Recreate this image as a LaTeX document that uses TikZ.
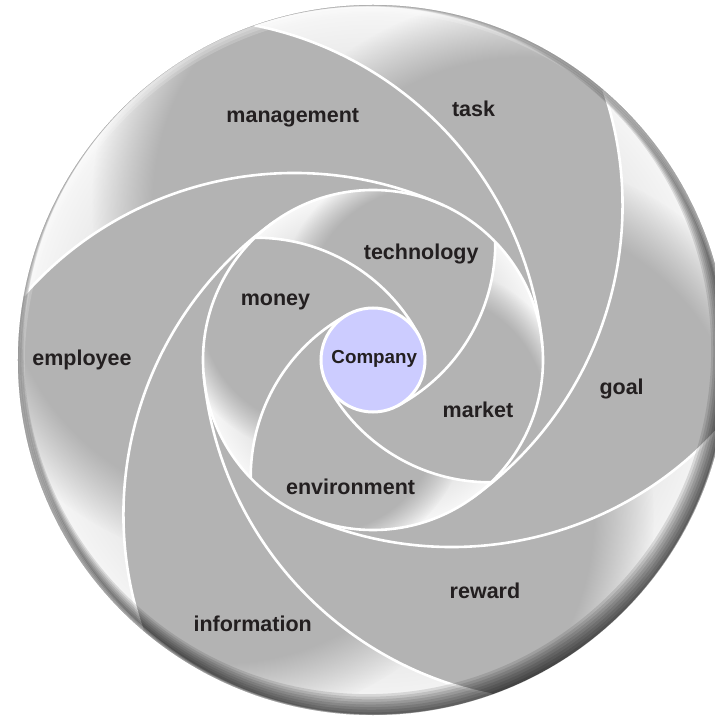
\documentclass[tikz,border=0pt]{standalone}
\usepackage{fontspec}
\setmainfont{Liberation Sans}
\usetikzlibrary{fadings}

\definecolor{petal}{HTML}{B3B3B3}
\definecolor{txt}{HTML}{231F20}
\definecolor{core}{HTML}{CCCCFF}
\definecolor{ltA}{HTML}{CDCDCD}
\definecolor{ltB}{HTML}{E3E3E3}
\definecolor{ltC}{HTML}{F7F7F7}

% shading/fading radius of the path = 25bp
\pgfdeclareradialshading{outerbase}{\pgfpointorigin}{color(0bp)=(petal); color(12bp)=(ltA); color(19bp)=(ltB); color(25bp)=(ltC); color(50bp)=(ltC)}
\pgfdeclareradialshading{innerbase}{\pgfpointorigin}{color(0bp)=(petal); color(7.5bp)=(ltA); color(20bp)=(ltB); color(25bp)=(ltC); color(50bp)=(ltC)}

\pgfdeclareradialshading{softS}{\pgfpointorigin}{color(0bp)=(pgftransparent!0); color(20bp)=(pgftransparent!0); color(22.5bp)=(pgftransparent!50); color(25bp)=(pgftransparent!100); color(50bp)=(pgftransparent!100)}
\pgfdeclarefading{soft}{\pgfuseshading{softS}}

\begin{document}
\begin{tikzpicture}[x=1pt,y=1pt,
  wline/.style={draw=white, line width=2.6pt},
  lbl/.style={font=\fontsize{21.5}{25}\selectfont\bfseries, text=txt, inner sep=0pt},
  corelbl/.style={font=\fontsize{18.8}{22}\selectfont\bfseries, text=txt, inner sep=0pt}]
\useasboundingbox (-373,-362) rectangle (341,360);

% disc base
\fill[petal] (0,0) circle[radius=355];

% outer blades
\foreach \k in {0,...,5}{
  \pgfmathsetmacro\sa{109.5-60*\k}
  \pgfmathsetmacro\sb{\sa-60}
  \pgfmathsetmacro\ta{\sa-104}
  \pgfmathsetmacro\tb{\sb-104}
  \pgfmathsetmacro\pa{\ta+73.2}
  \pgfmathsetmacro\pb{\tb+73.2}
  \pgfmathsetmacro\ph{\sa-90}
  \begin{scope}
    \clip (\sa:355) arc[start angle=\sa, end angle=\sb, radius=355]
      arc[start angle=\pb, end angle=\tb, radius=359.8]
      arc[start angle=\tb, end angle=\ta, radius=170]
      arc[start angle=\ta, end angle=\pa, radius=359.8] -- cycle;
    \shade[shading=outerbase] (0,0) circle[radius=355];
    \fill[petal, path fading=soft] (\ph:160) circle[radius=310];
  \end{scope}
}

% inner blades
\foreach \k in {0,...,3}{
  \pgfmathsetmacro\sa{134-90*\k}
  \pgfmathsetmacro\sb{\sa-90}
  \pgfmathsetmacro\ta{\sa-106}
  \pgfmathsetmacro\tb{\sb-106}
  \pgfmathsetmacro\pa{\ta+62.35}
  \pgfmathsetmacro\pb{\tb+62.35}
  \pgfmathsetmacro\ph{\sa-90}
  \begin{scope}
    \clip (\sa:170) arc[start angle=\sa, end angle=\sb, radius=170]
      arc[start angle=\pb, end angle=\tb, radius=184.5]
      arc[start angle=\tb, end angle=\ta, radius=52]
      arc[start angle=\ta, end angle=\pa, radius=184.5] -- cycle;
    \shade[shading=innerbase] (0,0) circle[radius=170];
    \fill[petal, path fading=soft] (\ph:75) circle[radius=150];
  \end{scope}
}

% white separating lines
\foreach \k in {0,...,5}{
  \pgfmathsetmacro\sa{109.5-60*\k}
  \pgfmathsetmacro\ta{\sa-104}
  \pgfmathsetmacro\pa{\ta+73.2}
  \draw[wline] (\sa:355) arc[start angle=\pa, end angle=\ta, radius=359.8];
}
\foreach \k in {0,...,3}{
  \pgfmathsetmacro\sa{134-90*\k}
  \pgfmathsetmacro\ta{\sa-106}
  \pgfmathsetmacro\pa{\ta+62.35}
  \draw[wline] (\sa:170) arc[start angle=\pa, end angle=\ta, radius=184.5];
}
\draw[wline] (0,0) circle[radius=170];

% rim shadow (bottom right) and soft highlight (top left)
\foreach \i in {1,...,8}{
  \fill[black, opacity=0.11, even odd rule] (0,0) circle[radius=355]
    (120:{1.4*\i}) circle[radius={355-1.4*\i}];
}
\foreach \i in {1,...,3}{
  \fill[white, opacity=0.18, even odd rule] (0,0) circle[radius=355.5]
    (-60:{1.5*\i}) circle[radius={355-1.5*\i}];
}

% centre
\node[circle, fill=core, draw=white, line width=3pt, minimum size=104pt, inner sep=0pt] (company) at (0,0) {};
\node[corelbl] (companylbl) at (1.3,1.2) {Company};

% labels
\node[lbl] (management) at (-80.2,242.5) {management};
\node[lbl] (task) at (100.6,251) {task};
\node[lbl] (employee) at (-291,0.5) {employee};
\node[lbl] (goal) at (248.6,-29) {goal};
\node[lbl] (reward) at (112,-231) {reward};
\node[lbl] (information) at (-120.3,-263.5) {information};
\node[lbl] (technology) at (48.2,106) {technology};
\node[lbl] (money) at (-97.5,58.5) {money};
\node[lbl] (market) at (105,-49.5) {market};
\node[lbl] (environment) at (-22.4,-127.3) {environment};
\end{tikzpicture}
\end{document}
